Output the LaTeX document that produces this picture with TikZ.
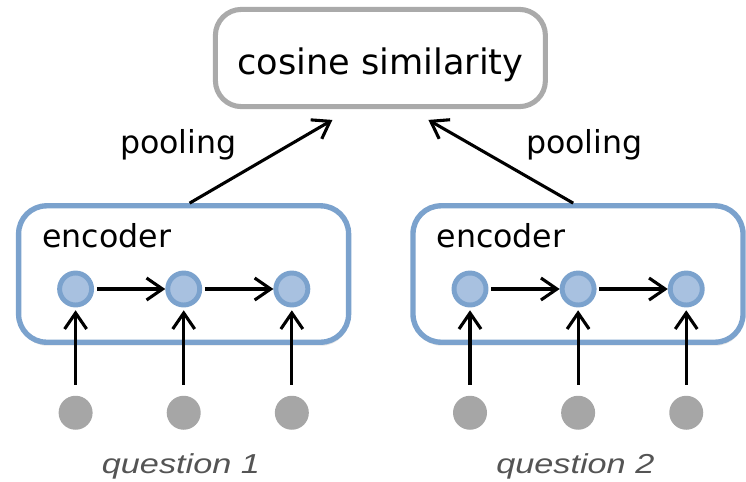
\documentclass[tikz,border=0pt]{standalone}
\usepackage{fontspec}
\setmainfont{DejaVu Sans}
\newfontfamily\qfont{Liberation Sans}[FakeStretch=1.25]
\usetikzlibrary{positioning, arrows.meta, calc, shadows}
\definecolor{encblue}{HTML}{7BA2CD}
\definecolor{cellblue}{HTML}{A8C1E0}
\definecolor{dotgray}{HTML}{A6A6A6}
\definecolor{boxgray}{HTML}{AAAAAA}
\definecolor{qgray}{HTML}{545454}

\tikzset{
  encbox/.style={draw=encblue, fill=white, line width=3.8pt, rounded corners=0.7cm,
    minimum width=8.25cm, minimum height=3.41cm,
    drop shadow={shadow xshift=0.5pt, shadow yshift=-2.5pt, opacity=0.2}},
  cell/.style={circle, draw=encblue, fill=cellblue, line width=3.5pt,
    minimum size=0.8cm, inner sep=0pt},
  tok/.style={circle, fill=dotgray, minimum size=0.85cm, inner sep=0pt},
  arr/.style={-{Straight Barb[length=4mm, width=5.5mm]}, line width=2.2pt},
  lbl/.style={font=\fontsize{22.5}{27}\selectfont, inner sep=0pt},
  qlbl/.style={font=\qfont\itshape\fontsize{19.5}{23}\selectfont, text=qgray, inner sep=0pt}
}

\begin{document}
\begin{tikzpicture}
  \useasboundingbox (0,0) rectangle (18.65,-12.025);

  % similarity box on top
  \node[draw=boxgray, line width=3.6pt, rounded corners=0.65cm,
        minimum width=8.25cm, minimum height=2.43cm] (cos) at (9.51,-1.45) {};
  \node[lbl, font=\fontsize{25}{30}\selectfont, anchor=base] (simtxt)
        at ($(cos.center)+(0,-0.4)$) {cosine similarity};

  % the two encoders
  \node[encbox] (enc1) at (4.59,-6.85) {};
  \node[encbox] (enc2) at (14.45,-6.85) {};
  \node[lbl, anchor=base west] (name1) at ($(enc1.north west)+(0.65,-1.12)$) {encoder};
  \node[lbl, anchor=base west] (name2) at ($(enc2.north west)+(0.65,-1.12)$) {encoder};

  % recurrent cells, input tokens
  \foreach \i in {1,2} {
    \node[cell] (c\i1) at ($(enc\i.center)+(-2.7,-0.375)$) {};
    \node[cell, right=1.78cm of c\i1] (c\i2) {};
    \node[cell, right=1.78cm of c\i2] (c\i3) {};
    \draw[arr, shorten <=2pt] (c\i1) -- (c\i2);
    \draw[arr, shorten <=2pt] (c\i2) -- (c\i3);
    \foreach \j in {1,2,3} {
      \node[tok, below=2.2cm of c\i\j] (t\i\j) {};
      \draw[arr, shorten <=0.27cm, shorten >=2pt] (t\i\j) -- (c\i\j);
    }
    \node[qlbl, anchor=base] (q\i) at ($(t\i2.center)+(-0.07,-1.52)$) {question \i};
  }

  % pooling into the similarity
  \draw[arr] ($(enc1.north)+(0.15,0)$) -- ($(cos.south)+(-1.2,-0.27)$);
  \draw[arr] ($(enc2.north)+(-0.12,0)$) -- ($(cos.south)+(1.2,-0.27)$);
  \node[lbl, anchor=base] (pool1) at (4.46,-3.83) {pooling};
  \node[lbl, anchor=base] (pool2) at (14.61,-3.83) {pooling};
\end{tikzpicture}
\end{document}
